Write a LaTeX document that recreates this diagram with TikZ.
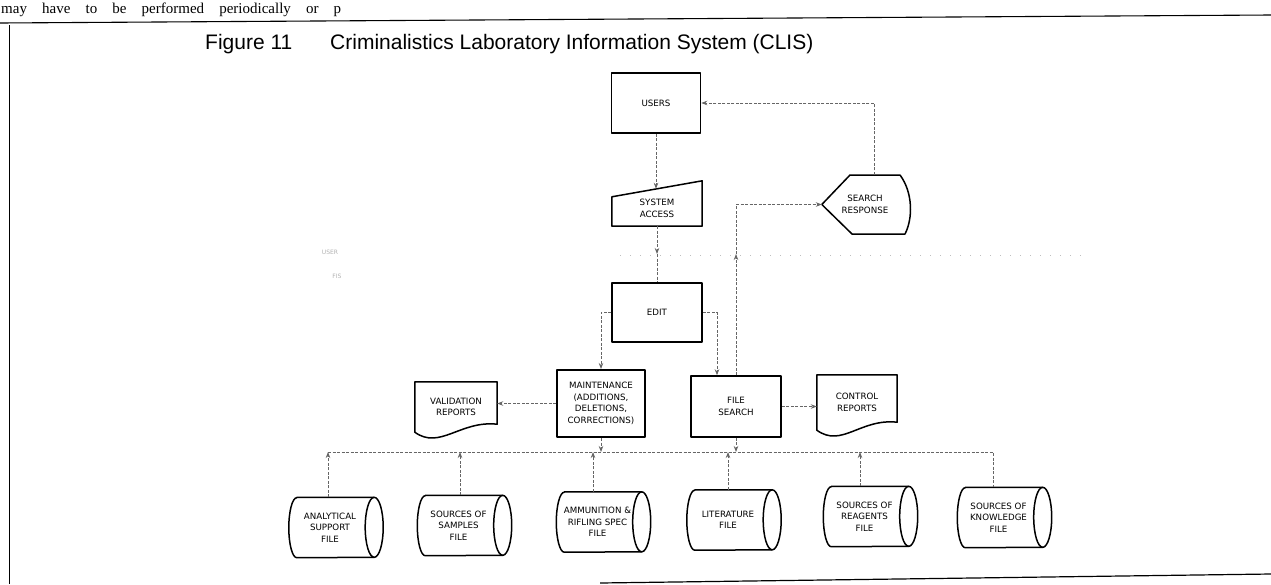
\documentclass[tikz,border=0pt]{standalone}
\usepackage{fontspec}
\setmainfont{Liberation Sans}
\newfontfamily\runonfont{Liberation Serif}
\newfontfamily\plotfont{DejaVu Sans}
\usetikzlibrary{arrows.meta,calc}
\newcommand\clislabel{\plotfont\fontsize{8.7}{11.5}\selectfont}

% horizontal storage drum: frame node, its caption, and the outline
\newcommand\drumfile[3]{%
  \node[drumframe] (#1) at (#2) {};
  \node[lbltext] (#1-text) at ([xshift=-6pt]#1.center) {#3};
  \draw[outline] ([xshift=8pt]#1.north west) -- ([xshift=-9pt]#1.north east)
     arc[start angle=90, end angle=-90, x radius=9pt, y radius=30pt]
     -- ([xshift=8pt]#1.south west)
     arc[start angle=-90, end angle=-270, x radius=8pt, y radius=30pt] -- cycle;
  \draw[outline] ([xshift=-9pt]#1.north east)
     arc[start angle=90, end angle=270, x radius=9pt, y radius=30pt];
}
% printed-report outline with a wavy lower edge
\newcommand\docshape[1]{%
  \draw[outline] (#1.north west) -- (#1.north east) -- ($(#1.south east)+(0,-8)$)
    .. controls ($(#1.south east)+(-37,-12)$) and ($(#1.south west)+(25,18)$) .. (#1.south west) -- cycle;
}

\begin{document}
\begin{tikzpicture}[x=1pt,y=-1pt,
  outline/.style={draw=black, line width=1.5pt, line join=round},
  lbltext/.style={inner sep=0pt, align=center, font=\clislabel},
  box/.style={lbltext, outline, rectangle},
  drumframe/.style={inner sep=0pt, minimum width=94pt, minimum height=60pt},
  docframe/.style={lbltext, minimum width=82pt, minimum height=50pt},
  link/.style={draw=black!60, line width=0.75pt, dash pattern=on 3pt off 1.5pt},
  tip/.style={-{Stealth[length=6pt,width=4.5pt]}},
  ghost/.style={inner sep=0pt, text=black!30, font=\plotfont\fontsize{6}{7}\selectfont},
  ghostline/.style={draw=black!25, line width=0.6pt, dash pattern=on 1pt off 9pt},
]
\useasboundingbox (0,0) rectangle (1271,584);
\clip (0,0) rectangle (1271,584);

% running text of the page above the figure frame
\node[anchor=base west, inner sep=0pt, font=\runonfont\fontsize{15}{15}\selectfont] (runon) at (1,13)
  {\makebox[340pt][s]{may have to be performed periodically or p}};

% figure frame
\draw[line width=1.1pt] (0,23) -- (1271,15);
\draw[line width=0.9pt] (9,25) -- (9,584);
\draw[line width=1.2pt] (600,583) -- (1271,574);

% caption
\node[anchor=base west, inner sep=0pt, font=\fontsize{21}{23}\selectfont] (figno) at (205,49) {Figure 11};
\node[anchor=base west, inner sep=0pt, font=\fontsize{21}{23}\selectfont] (title) at (330,49)
  {Criminalistics Laboratory Information System (CLIS)};

% process boxes
\node[box, minimum width=89pt, minimum height=60pt] (users) at (656,103) {USERS};

\node[lbltext, minimum width=90pt, minimum height=45pt] (access) at (657,203.5) {};
\node[lbltext] (access-text) at ([yshift=-5pt]access.center) {SYSTEM\\ACCESS};
\draw[outline] (access.south west) -- (access.south east) -- (access.north east)
  -- ($(access.north west)+(0,16)$) -- cycle;
\coordinate (accTop) at ($(access.north)+(-1,8)$);

\node[box, minimum width=90pt, minimum height=59pt] (edit) at (657,312.5) {EDIT};
\node[box, line width=2pt, minimum width=88pt, minimum height=67pt] (maint) at (601,403.5)
  {MAINTENANCE\\(ADDITIONS,\\DELETIONS,\\CORRECTIONS)};
\node[box, minimum width=90pt, minimum height=61pt] (fsearch) at (736,406.5) {FILE\\SEARCH};

% reports
\node[docframe] (valid) at (456,407) {VALIDATION\\REPORTS};
\docshape{valid}
\node[docframe, minimum width=80pt, minimum height=55pt] (control) at (857,402.5) {CONTROL\\REPORTS};
\docshape{control}

% display symbol
\node[lbltext, minimum width=86pt, minimum height=59pt] (resp) at (865,204.5) {SEARCH\\RESPONSE};
\draw[outline] ($(resp.center)+(-15,-29.5)$) -- ($(resp.center)+(35,-29.5)$)
  .. controls ($(resp.center)+(48,-12)$) and ($(resp.center)+(48,14)$) .. ($(resp.center)+(40,29.5)$)
  -- ($(resp.center)+(-13,29.5)$) -- (resp.west) -- cycle;
\coordinate (respTop) at ([xshift=9pt]resp.north);

% data files
\drumfile{fa}{336,527.5}{ANALYTICAL\\SUPPORT\\FILE}
\drumfile{fb}{464.5,525.5}{SOURCES OF\\SAMPLES\\FILE}
\drumfile{fc}{603.5,522}{AMMUNITION \&\\RIFLING SPEC\\FILE}
\drumfile{fd}{734,520}{LITERATURE\\FILE}
\drumfile{fe}{870.5,516.5}{SOURCES OF\\REAGENTS\\FILE}
\drumfile{ff}{1004.5,517.5}{SOURCES OF\\KNOWLEDGE\\FILE}

% faint show-through marks
\node[ghost] (ghost-a) at (330,252) {USER};
\node[ghost] (ghost-b) at (337,276) {FIS};
\coordinate (ghost-l) at (620,255);
\coordinate (ghost-r) at (1090,255);
\draw[ghostline] (ghost-l) -- (ghost-r);

% control flow
\coordinate (midA) at (657,254);
\coordinate (midB) at (736,254);
\draw[link,tip] (users.south) -- (accTop);
\draw[link,tip] (access.south) -- (midA);
\draw[link] (midA) -- (edit.north);
\draw[link,tip] (edit.west) -| (maint.north);
\draw[link,tip] (edit.east) -| ([xshift=-19pt]fsearch.north);
\draw[link,tip] (fsearch.north) -- (midB);
\draw[link,tip] (midB) |- (resp.west);
\draw[link,tip] (respTop) |- (users.east);
\draw[link,tip] (maint.west) -- (maint.west -| valid.east);
\draw[link,tip] (fsearch.east) -- (fsearch.east -| control.west);

% file bus
\coordinate (bus-a) at (328,452);
\coordinate (bus-b) at (460,452);
\coordinate (bus-c) at (593,452);
\coordinate (bus-d) at (728,452);
\coordinate (bus-e) at (860,452);
\coordinate (bus-f) at (993,452);
\draw[link,tip] (maint.south) -- (maint.south |- bus-a);
\draw[link,tip] (fsearch.south) -- (fsearch.south |- bus-a);
\draw[link] (bus-a) -- (bus-f) -- (bus-f |- ff.north);
\foreach \f/\b in {fa/bus-a, fb/bus-b, fc/bus-c, fd/bus-d, fe/bus-e}
  \draw[link,tip] (\b |- \f.north) -- (\b);
\end{tikzpicture}
\end{document}
